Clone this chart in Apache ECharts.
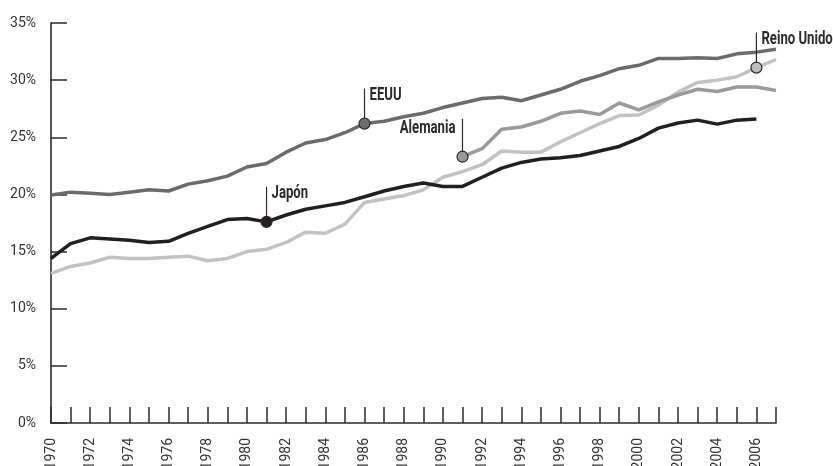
<!DOCTYPE html>
<html><head><meta charset="utf-8">
<script src="https://cdn.jsdelivr.net/npm/echarts@6/dist/echarts.min.js"></script>
<style>html,body{margin:0;padding:0;background:#fff}#c{width:833px;height:466px}</style>
</head><body><div id="c"></div>
<script>
const years = ['1970','1971','1972','1973','1974','1975','1976','1977','1978','1979','1980','1981','1982','1983','1984','1985','1986','1987','1988','1989','1990','1991','1992','1993','1994','1995','1996','1997','1998','1999','2000','2001','2002','2003','2004','2005','2006','2007'];
const eeuu = [19.95,20.2,20.1,20.0,20.2,20.4,20.3,20.9,21.2,21.6,22.4,22.7,23.7,24.5,24.8,25.4,26.2,26.4,26.8,27.1,27.6,28.0,28.4,28.5,28.2,28.7,29.2,29.9,30.4,31.0,31.3,31.9,31.9,31.95,31.9,32.3,32.45,32.7];
const japon = [14.4,15.7,16.2,16.1,16.0,15.8,15.9,16.6,17.2,17.8,17.9,17.6,18.2,18.7,19.0,19.3,19.8,20.3,20.7,21.0,20.7,20.7,21.5,22.3,22.8,23.1,23.2,23.4,23.8,24.2,24.9,25.8,26.25,26.5,26.15,26.5,26.6,null];
const alemania = [null,null,null,null,null,null,null,null,null,null,null,null,null,null,null,null,null,null,null,null,null,23.3,24.0,25.7,25.9,26.4,27.1,27.3,27.0,28.0,27.4,28.1,28.7,29.2,29.0,29.4,29.4,29.1];
const reino = [13.1,13.7,14.0,14.5,14.4,14.4,14.5,14.6,14.2,14.4,15.0,15.2,15.8,16.7,16.6,17.4,19.3,19.6,19.9,20.4,21.5,22.0,22.6,23.8,23.7,23.7,24.6,25.4,26.2,26.9,26.95,27.8,28.95,29.8,30.0,30.3,31.1,31.8];
const yTicks = ['0%','5%','10%','15%','20%','25%','30%','35%'];

const FONT = "Roboto,'DejaVu Sans Condensed',sans-serif";
const series = [
  {name:'Reino Unido', data:reino, color:'#c2c2c2', mark:'2006', markFill:'#bdbdbd', side:'right', rise:35, labelDy:0},
  {name:'Alemania', data:alemania, color:'#9a9a9a', mark:'1991', markFill:'#9a9a9a', side:'left', rise:38, labelDy:3},
  {name:'Japón', data:japon, color:'#231f20', mark:'1981', markFill:'#231f20', side:'right', rise:35, labelDy:0},
  {name:'EEUU', data:eeuu, color:'#6b6b6b', mark:'1986', markFill:'#6e6e6e', side:'right', rise:35, labelDy:0}
];

const chart = echarts.init(document.getElementById('c'), null, {renderer:'canvas'});
const option = {
  animation:false,
  backgroundColor:'#fff',
  textStyle:{fontFamily:FONT},
  grid:{left:51, right:57, top:23, bottom:43, containLabel:false, outerBoundsMode:'none'},
  xAxis:{
    type:'category', data:years, boundaryGap:false,
    axisLine:{lineStyle:{color:'#2b2b2b', width:1.6}},
    axisTick:{show:true, inside:true, length:16, interval:0, lineStyle:{color:'#2b2b2b', width:1.5}},
    axisLabel:{interval:1, rotate:90, margin:15, fontSize:14, color:'#333', fontFamily:FONT},
    splitLine:{show:false}
  },
  yAxis:{
    type:'value', min:0, max:35, interval:5,
    axisLine:{show:true, lineStyle:{color:'#2b2b2b', width:1.6}},
    axisTick:{show:true, inside:true, length:16, lineStyle:{color:'#2b2b2b', width:1.5}},
    axisLabel:{margin:15, fontSize:14, color:'#333', fontFamily:FONT, formatter:(v)=>yTicks[Math.round(v/5)]},
    splitLine:{show:false}
  },
  series: series.map((s,k)=>({
    type:'line', name:s.name, z:2+k,
    symbol:'none', showSymbol:true, connectNulls:false,
    lineStyle:{color:s.color, width:3.5, join:'round'},
    itemStyle:{color:s.color},
    emphasis:{disabled:true},
    silent:true,
    data: s.data.map((v,i)=> years[i]===s.mark ? {value:v, symbol:'circle', symbolSize:11, itemStyle:{color:s.markFill, borderColor:'#2b2b2b', borderWidth:1.2}} : v)
  }))
};
chart.setOption(option);

const g = [];
series.forEach((s,k)=>{
  const idx = years.indexOf(s.mark);
  const p = chart.convertToPixel({seriesIndex:k}, [idx, s.data[idx]]);
  const top = p[1]-s.rise;
  g.push({type:'line', z:100, shape:{x1:p[0], y1:p[1]-5, x2:p[0], y2:top}, style:{stroke:'#2b2b2b', lineWidth:1.2}});
  const right = s.side==='right';
  g.push({type:'text', z:100,
    x: right ? p[0]+5 : p[0]-7, y: top + 7 + s.labelDy, scaleX:0.73, scaleY:1,
    style:{
      text:s.name, x:0, y:0,
      fill:'#2b2b2b', font:"bold 18px Roboto, sans-serif",
      align: right?'left':'right', verticalAlign:'middle',
      textAlign: right?'left':'right', textVerticalAlign:'middle'
  }});
});
chart.setOption({graphic:g});
</script>
</body></html>
